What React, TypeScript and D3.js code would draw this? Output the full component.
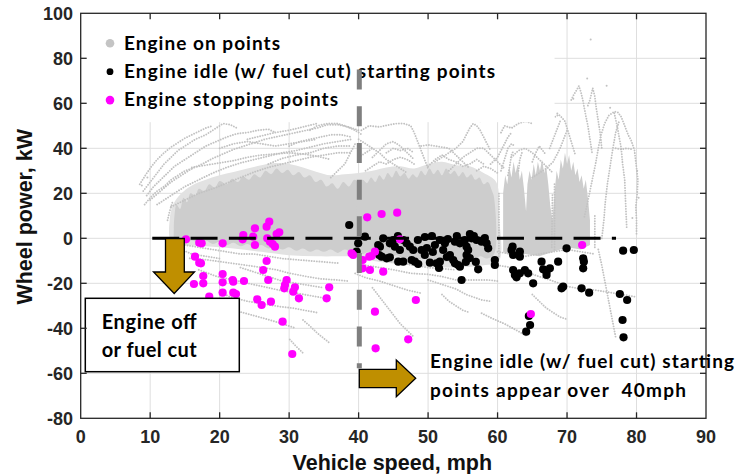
import React, { useEffect } from "react";
import * as d3 from "d3";

const W = 736;
const H = 474;

const xTicks = [0, 10, 20, 30, 40, 50, 60, 70, 80, 90];
const yTicks = [-80, -60, -40, -20, 0, 20, 40, 60, 80, 100];

type Pt = [number, number];

// Medium-density fringe of the "engine on" cloud (speed mph, wheel power kW)
const engineOnFringe: Pt[][] = [
  [
    [13, -1], [12.8, 8], [13.3, 15], [14.5, 20], [16, 23.5], [18, 26], [20, 28], [22, 29.5], [24, 31], [26, 32.5],
    [28, 33.5], [30, 33], [32, 31.5], [34, 29.5], [36, 28], [38, 28.5], [40, 29], [42, 30], [44, 31.5], [46, 32],
    [48, 31], [50, 33], [52, 34], [54, 32.5], [56, 32], [58, 29], [59.8, 25], [60.2, 10], [60.2, -10], [58, -12],
    [54, -13], [50, -12.5], [46, -11.5], [42, -10], [40, -8], [38, -8], [34, -8], [30, -7.5], [26, -6], [22, -4.5],
    [18, -3.5], [15, -3],
  ],
];

// Dense parts of the "engine on" cloud
const engineOnDense: Pt[][] = [
  [
    [13.5, -0.5], [13.4, 4], [13.5, 10], [13.8, 15], [14.3, 13], [14.8, 18], [15.3, 16], [15.8, 20], [16.5, 19],
    [17, 22], [17.8, 21], [18.5, 24], [19.3, 22.5], [20, 25.5], [21, 24], [21.8, 26.5], [22.6, 25], [23.4, 27.5],
    [24.2, 26], [25, 28.5], [25.8, 27], [26.6, 30], [27.4, 28.5], [28.2, 31], [29, 29], [29.8, 30.5], [30.6, 28],
    [31.4, 29.5], [32.2, 27], [33, 28], [33.8, 25], [34.6, 26], [35.4, 23], [36.2, 24.5], [37, 22], [37.8, 25],
    [38.6, 23], [39.4, 26], [40, 24],
    [40, -4.5], [39, -6], [38, -5], [37, -6.5], [36, -5], [35, -6], [34, -5], [33, -6], [32, -4.5], [31, -5.5],
    [30, -4], [29, -5], [28, -3.5], [27, -4.5], [26, -3], [25, -4], [24, -2.5], [23, -3.5], [22, -2], [21, -3],
    [20, -1.5], [19, -2.5], [18, -1], [17, -2], [16, -1], [15, -2], [14, -1],
  ],
  [
    [40, 24], [40.6, 26], [41.2, 24.5], [41.8, 27], [42.4, 25], [43, 28], [43.6, 26], [44.2, 29], [44.8, 27],
    [45.4, 30], [46, 27.5], [46.6, 29], [47.2, 26.5], [47.8, 28.5], [48.4, 27], [49, 30], [49.6, 28], [50.2, 31],
    [50.8, 28.5], [51.4, 30.5], [52, 28], [52.6, 31], [53.2, 28.5], [53.8, 30], [54.4, 27.5], [55, 29.5],
    [55.6, 27], [56.2, 28.5], [56.8, 26], [57.4, 27], [58, 24], [58.6, 25], [59.2, 21], [59.5, 18],
    [59.5, -7], [58.5, -9], [57.5, -8], [56.5, -10], [55.5, -9], [54.5, -11], [53.5, -9.5], [52.5, -10.5],
    [51.5, -9], [50.5, -10], [49.5, -8.5], [48.5, -9.5], [47.5, -8], [46.5, -9], [45.5, -7.5], [44.5, -8.5],
    [43.5, -7], [42.5, -8], [41.5, -6], [40.5, -7], [40, -5],
  ],
];

// Acceleration columns at higher speed
const engineOnColumns: Pt[][] = [
  [
    [60.8, -6], [60.8, 20], [61.1, 28], [61.4, 24], [61.7, 32], [62, 27], [62.3, 34], [62.6, 29], [62.9, 33],
    [63.2, 26], [63.5, 30], [63.8, 22], [64.1, 12], [64.3, 24], [64.6, 30], [64.9, 26], [65.2, 33], [65.5, 28],
    [65.8, 34], [66.1, 30], [66.4, 35], [66.7, 29], [67, 32], [67.3, 24], [67.6, 14], [67.9, 8], [68.2, 20],
    [68.5, 30], [68.8, 26], [69.1, 35], [69.4, 31], [69.7, 38], [70, 33], [70.3, 37], [70.6, 30], [70.9, 34],
    [71.2, 28], [71.5, 31], [71.8, 25], [72.1, 28], [72.4, 22], [72.7, 26], [73, 18], [73.3, 8],
    [73.3, -3], [72, -5], [70, -4], [68, -6], [66, -8], [64, -7], [62, -8],
  ],
];

// Sparser "engine on" samples, stored as runs along each drive trace
const engineOnTraces: Pt[][] = [
  [[9, 21], [10, 25], [11, 29], [12, 33], [13, 36], [14, 39], [15, 41], [16.5, 44], [18, 46], [19.5, 49], [20.5, 51], [21.5, 50.5], [22.5, 49]],
  [[9.5, 19], [10.5, 23], [11.5, 26], [12.5, 29], [13.5, 32], [15, 35], [16.5, 38], [18, 41], [19.5, 43], [21, 45], [22.5, 46.5], [24, 47], [25.5, 48], [27, 48.5], [28, 47]],
  [[10, 17], [11.5, 21], [13, 25], [14.5, 28], [16, 31], [17.5, 33], [19, 35.5], [20.5, 37.5], [22, 39.5], [23.5, 41], [25, 42.5], [26.5, 44], [28, 45], [29.5, 46], [31, 47], [32.5, 48], [34, 49], [35.5, 50.5], [37, 50.5], [38.5, 49.5], [40, 48]],
  [[11, 15], [13, 19], [15, 23], [17, 26], [19, 29], [21, 31.5], [23, 33.5], [25, 35], [27, 36.5], [29, 38], [31, 39], [33, 40.5], [35, 42], [37, 43], [39, 44]],
  [[13, 14], [15, 17], [17, 20], [19, 22], [21, 24.5], [23, 27], [25, 29.5], [27, 31.5], [29, 33], [31, 34.5], [33, 36], [35, 37], [37, 38], [39, 38]],
  [[16, 31.5], [18, 32.5], [20, 33.5], [22, 34.5], [24, 36], [26, 37], [28, 37.5], [30, 38], [32, 37.5], [34, 36.5], [36, 35]],
  [[9.2, 15], [10, 18], [11, 21], [12, 23], [13, 26], [14, 28], [15, 30], [16, 31]],
  [[8.5, 24], [9.3, 28], [10.2, 32], [11, 35], [12, 38], [13, 40.5], [14, 42.5], [15, 44.5], [16, 46], [17, 47.5], [18, 49], [19, 50]],
  [[24, 44], [26, 45.5], [28, 47], [30, 48], [32, 49.5], [34, 51]],
  [[20, 40], [22, 42], [24, 43], [26, 42], [28, 41], [30, 42], [32, 43], [34, 44]],
  [[27, 33], [29, 35.5], [31, 37], [33, 38], [35, 40], [37, 41], [39, 41]],
  [[30, 41], [31.5, 43], [33, 44], [34.5, 45], [36, 46], [37.5, 46], [39, 45]],
  [[33, 48], [34, 50], [35.5, 51], [37, 51], [38, 50], [39.5, 48], [40.5, 46]],
  [[36, 27], [37, 30], [38, 33], [38.5, 36], [39, 39], [39.5, 42]],
  [[40.4, 48], [41.5, 50], [43, 49.5], [44.5, 50.5], [45.5, 51], [46.5, 51], [47.5, 50], [48, 47], [48.5, 43], [49, 39], [49.5, 35], [50, 31]],
  [[40, 44], [41, 42], [42, 40], [43, 38], [44, 35], [45, 33], [46, 31], [47, 29]],
  [[42, 36], [43, 39], [44, 42], [45, 43], [46, 41], [47, 38], [48, 35]],
  [[41, 30], [42, 32], [43, 34], [44, 33], [45, 35], [46, 36], [47, 35], [48, 33]],
  [[40, 36], [41, 38], [42, 40]],
  [[44, 38], [45, 40], [46, 39], [47, 40], [48, 38]],
  [[49, 41], [50, 41.5], [51, 41], [52, 40.5], [53, 40], [54, 37], [55, 34], [56, 31]],
  [[50, 32], [51, 35], [52, 37], [53, 35], [54, 34], [55, 32], [56, 33], [57, 35], [58, 33]],
  [[51, 34], [52, 36], [53, 38], [54, 40], [55, 43], [55.5, 46], [56, 49], [56.5, 51], [57, 50], [57.5, 48], [58, 45], [58.5, 42], [59, 39]],
  [[53, 30], [54, 33], [55, 36], [56, 38], [57, 40], [58, 40], [59, 37], [60, 34], [61, 31]],
  [[57, 30], [58, 32], [59, 31], [60, 29]],
  [[60.5, 47], [61, 50], [62, 49], [63, 51], [64, 52], [65, 51]],
  [[59, 33], [60, 36], [60.5, 39], [61, 42], [61.5, 45], [62, 47]],
  [[60.5, 30], [61, 35], [61.5, 40], [62, 42], [62.5, 41]],
  [[62, 36], [63, 39], [64, 40], [65, 38], [66, 35], [67, 32], [68, 29]],
  [[65, 34], [65.5, 38], [66, 41], [66.5, 39], [67, 37]],
  [[65, 27], [66, 29], [67, 31], [68, 34], [68.5, 37], [69, 40], [69.5, 44], [70, 48]],
  [[67.5, 40], [68, 44], [68.5, 48], [69, 52]],
  [[68.3, 54], [68.8, 55], [69.3, 53.5], [69.7, 52], [70, 49], [70.4, 45], [70.8, 41], [71.2, 37]],
  [[70.6, 61.5], [71, 64], [71.4, 66], [71.7, 67.7], [72, 65], [72.3, 61], [72.6, 56], [73, 50], [73.3, 44], [73.6, 38]],
  [[73, 59], [73.3, 61.5], [73.7, 66.7], [74, 63], [74.2, 58], [74.5, 52], [74.8, 46], [75, 40]],
  [[72.5, 9.6], [72.9, 15], [73.3, 21], [73.7, 27], [74.1, 33], [74.5, 40], [74.9, 46], [75.4, 51], [76, 54.5], [76.8, 56.3], [77.3, 56], [77.8, 54], [78.3, 50], [78.8, 46], [79.2, 43.7], [79.7, 39.3], [79.9, 34], [80.2, 26], [80.1, 20], [79.9, 14], [80, 8], [80, 2]],
  [[76.8, 55.6], [77.2, 50], [77.5, 45], [77.8, 40], [78, 33], [78.3, 26], [78.4, 18], [78.5, 11], [78.6, 4]],
  [[75, 0], [75.3, 8], [75.5, 16], [75.8, 24], [76.2, 32], [76.6, 40], [77, 47], [77.5, 52]],
  [[77, 40], [77.8, 39.5], [78.6, 40], [79.5, 39.5]],
  [[61.5, 28], [61.8, 33], [62, 37], [62.3, 39]],
  [[63, 30], [63.2, 35], [63.5, 38]],
  [[60.2, -8], [60.2, 20]],
  [[68.2, -5], [68.2, 25]],
  [[67.8, -4], [67.9, 20]],
  [[74, -4], [74, 10]],
  [[12.5, 8], [12.8, 12], [13.2, 16]],
  [[15.7, -8.9], [18, -9.5], [21.5, -11], [25, -12.5], [28.2, -14], [30, -15.5], [32.5, -17], [34.5, -18], [36.8, -18.5], [38.5, -19]],
  [[17, -14], [19.6, -17], [22, -18.5], [24, -20], [26.3, -21.5], [28.5, -23], [31.1, -24.4], [34, -26], [36, -27]],
  [[20, -24], [21.5, -26], [24, -28], [26, -29], [28.7, -30.4], [30.5, -31], [32, -31.9], [34, -33]],
  [[22, -31.9], [24.5, -34], [27.2, -36.3], [29, -38], [31, -40]],
  [[32, -36.3], [33, -39], [34, -42], [35, -44.5], [35.9, -46.7]],
  [[30.1, -45], [31, -48], [32, -51]],
  [[15, -3], [17, -4], [19, -5], [21, -6], [23, -7], [25, -7], [27, -8], [29, -9], [31, -9.5], [33, -10], [35, -10.5], [37, -11]],
  [[14.5, -5], [16, -7], [18, -8], [20, -9]],
  [[23, -13], [25, -15], [27, -17], [29, -19], [31, -20], [33, -21], [35, -22]],
  [[39.5, -15.6], [41, -17.5], [43, -19], [45, -21], [47, -23], [49, -24.4]],
  [[41, -12], [43, -13], [45, -14], [47.6, -15.6], [50, -16], [52, -17], [54, -18.5], [56, -18.5], [58.6, -18.5], [60, -19]],
  [[50, -18.5], [52, -20.5], [54, -22.5], [55.5, -25], [57.7, -27.4], [59, -28]],
  [[57.7, -33.3], [59.5, -36], [61, -38], [62.5, -40.5], [64.4, -43.7]],
  [[60, -12], [62, -13], [64, -15], [66, -17], [68, -19], [70.2, -21.5], [72, -22.5], [74, -23], [76, -24], [78, -25], [79.8, -26]],
  [[42, -22], [43, -26], [44, -30], [45, -34], [46, -38], [47, -41], [48, -44]],
  [[52, -25], [53, -28], [54, -30], [55, -32], [56, -33]],
  [[74.5, -5], [75, -12], [75.5, -20], [76, -28], [76.5, -36], [77, -44]],
  [[65, -25], [66, -28], [67, -31], [68, -33], [69, -35], [70, -36]],
  [[44, -10], [46, -11], [48, -12], [50, -13], [52, -13.5], [54, -14]],
  [[60, -6], [62, -7], [64, -8], [66, -7], [68, -6], [70, -5], [72, -6], [74, -7]],
];

const engineOnSingles: Pt[] = [
  [73.4, 88.4], [75.7, 67.8], [72.9, 71], [70.9, 62], [68.6, 55.5], [76.2, 58], [80.1, 30],
  [8.8, 23.5], [9.6, 27], [57.5, 52], [66, 53], [79.4, 9], [80.3, 18],
];

// Engine idle (with fuel cut) starting points
const idleStartPoints: Pt[] = [
  [38.65, 5.91], [39.71, -5.96], [39.94, -2.22], [40.91, 0.71], [42.82, -2.98], [43.07, -3.73],
  [42.96, -7.42], [43.31, -8.18], [44.03, -8.89], [44.5, -8.44], [44.5, -2.22], [45.22, -3.73],
  [44.98, -0.76], [46.42, -0.76], [46.91, -2.22], [47.38, -3.73], [47.86, -5.2], [45.7, -10.4],
  [46.42, -10.4], [47.63, -9.64], [48.1, -10.4], [48.58, -11.42], [49.06, -5.2], [50.26, -10.84],
  [51.22, -11.11], [51.7, -10.4], [50.98, -2.98], [51.7, -0.76], [52.42, -2.22], [52.17, -5.2],
  [53.14, -7.42], [53.61, -9.64], [53.86, -11.11], [54.33, -11.87], [54.58, -12.62], [53.86, -1.51],
  [54.58, -2.22], [55.3, -0.76], [55.54, -3.73], [55.77, -5.2], [56.26, 0], [56.98, -0.76],
  [57.7, -1.51], [58.42, -2.22], [58.65, -4.44], [55.54, -7.42], [54.82, -18.53], [57.21, -13.78],
  [59.61, -9.64], [59.61, -11.87], [62.16, -3.73], [62.01, -5.2], [62.24, -7.42], [63.21, -5.96],
  [63.21, -8.18], [62.24, -14.09], [62.49, -16.31], [62.73, -17.33], [63.21, -15.56], [63.93, -14.09],
  [64.4, -15.56], [65.12, -20.0], [66.33, -10.4], [66.56, -13.78], [67.05, -14.84], [67.53, -13.33],
  [67.05, -16.31], [68.72, -10.4], [69.21, -22.22], [69.44, -21.51], [69.93, -4.44], [72.32, -8.89],
  [72.42, -10.4], [72.32, -13.33], [72.09, -22.22], [73.18, -24.18], [78.07, -5.51], [79.61, -5.2],
  [77.6, -24.76], [78.65, -27.42], [77.99, -36.31], [78.13, -44.0], [64.5, -34.53], [64.68, -38.53],
  [64.12, -41.51], [43.54, 0], [45.66, 1.02], [48.53, -0.76], [49.54, 0.58], [50.55, 1.02],
  [52.85, -0.31], [54.14, 1.02], [56.02, 1.91], [56.59, 1.02], [58.17, 0.13], [49.82, -4.31],
  [50.68, -6.09], [45.94, -5.2], [49.53, -7.42], [52.7, -8.3], [55.44, -10.5], [56.0, -8.8],
  [56.87, -10.5], [51.57, -13.2],
];

// Engine stopping points
const stopPoints: Pt[] = [
  [15.15, -0.44], [17.06, -1.96], [17.41, -2.22], [20.43, -2.22], [23.4, 1.47], [23.31, -0.44],
  [25.08, 4.44], [24.83, 0.71], [25.08, -2.98], [26.76, 5.16], [27.14, 7.38], [28.2, 1.91],
  [28.58, 2.67], [26.85, 0], [27.24, -1.51], [27.63, -2.53], [27.96, -3.73], [16.45, -8.18],
  [17.06, -10.84], [17.31, -11.11], [26.76, -10.09], [26.27, -14.09], [17.64, -16.76], [20.43, -15.87],
  [16.3, -20.31], [17.64, -20.0], [20.43, -19.56], [21.87, -18.53], [21.96, -19.29], [23.5, -18.98],
  [26.99, -18.53], [29.64, -18.53], [29.4, -20.76], [29.3, -22.22], [30.83, -21.78], [30.59, -23.73],
  [31.41, -26.67], [35.77, -21.78], [35.4, -26.67], [18.5, -25.96], [20.43, -24.18], [21.96, -24.18],
  [22.35, -24.76], [25.41, -27.11], [26.04, -29.64], [27.38, -28.18], [29.06, -37.07], [30.45, -51.42],
  [38.99, -6.67], [39.22, -7.42], [40.58, -9.64], [41.53, -8.18], [41.87, -7.87], [42.35, -5.96],
  [40.58, -13.33], [41.63, -14.09], [43.54, -14.84], [41.24, 9.33], [43.31, 10.8], [45.55, 11.38],
  [45.94, -0.44], [48.24, -27.42], [42.35, -32.62], [47.14, -44.89], [42.45, -48.89], [64.79, -33.64],
  [72.17, -2.98],
];

const legendItems = [
  { label: "Engine on points", color: "#c4c4c4", r: 4.3, width: 156 },
  { label: "Engine idle (w/ fuel cut) starting points", color: "#000000", r: 3.4, width: 371 },
  { label: "Engine stopping points", color: "#ff00ff", r: 4.3, width: 214 },
];

const GREY = "#c2c2c2";
const DENSE = "#cdcdcd";
const FRINGE = "#e2e2e2";
const GOLD = "#BF8F00";
const AXIS = "#262626";
const LABEL_FONT = "Lato, 'Open Sans', sans-serif";
const TICK_FONT = "'Liberation Sans', Arial, sans-serif";

export default function App() {
  useEffect(() => {
    document.body.style.margin = "0";
  }, []);

  const x = d3.scaleLinear().domain([0, 90]).range([80.7, 706]);
  const y = d3.scaleLinear().domain([-80, 100]).range([418.3, 13.3]);
  const [x0, x1] = x.range();
  const [y0, y1] = y.range();

  const line = d3
    .line<Pt>()
    .x((d) => x(d[0]))
    .y((d) => y(d[1]));
  const smoothArea = d3
    .line<Pt>()
    .x((d) => x(d[0]))
    .y((d) => y(d[1]))
    .curve(d3.curveCatmullRomClosed.alpha(0.5));
  const sharpArea = d3
    .line<Pt>()
    .x((d) => x(d[0]))
    .y((d) => y(d[1]))
    .curve(d3.curveLinearClosed);

  return (
    <svg
      width={W}
      height={H}
      viewBox={`0 0 ${W} ${H}`}
      style={{ position: "absolute", left: 0, top: 0, background: "#fff" }}
    >
      <rect x={0} y={0} width={W} height={H} fill="#fff" />

      {/* grid */}
      <g stroke="#dedede" strokeWidth={1}>
        {xTicks.slice(1, -1).map((t) => (
          <line key={`gx${t}`} x1={x(t)} x2={x(t)} y1={y1} y2={y0} />
        ))}
        {yTicks.slice(1, -1).map((t) => (
          <line key={`gy${t}`} x1={x0} x2={x1} y1={y(t)} y2={y(t)} />
        ))}
      </g>

      {/* engine on cloud */}
      <g>
        {engineOnFringe.map((poly, i) => (
          <path key={`f${i}`} d={smoothArea(poly) || ""} fill={FRINGE} />
        ))}
        {engineOnDense.map((poly, i) => (
          <path key={`d${i}`} d={smoothArea(poly) || ""} fill={DENSE} />
        ))}
        {engineOnColumns.map((poly, i) => (
          <path key={`c${i}`} d={sharpArea(poly) || ""} fill={DENSE} />
        ))}
        {engineOnTraces.map((tr, i) => (
          <path
            key={`t${i}`}
            d={line(tr) || ""}
            fill="none"
            stroke={GREY}
            strokeWidth={1.9}
            strokeDasharray="0.01 2.6"
            strokeLinecap="round"
          />
        ))}
        {engineOnSingles.map((p, i) => (
          <circle key={`s${i}`} cx={x(p[0])} cy={y(p[1])} r={1} fill={GREY} />
        ))}
      </g>

      {/* idle start and stop points */}
      <g>
        {idleStartPoints.map((p, i) => (
          <circle key={`b${i}`} cx={x(p[0])} cy={y(p[1])} r={4.1} fill="#000" />
        ))}
        {stopPoints.map((p, i) => (
          <circle key={`m${i}`} cx={x(p[0])} cy={y(p[1])} r={4.1} fill="#ff00ff" />
        ))}
      </g>

      {/* legend */}
      <rect x={x(0)} y={y(100)} width={x(68.2) - x(0)} height={y(51.6) - y(100)} fill="#fff" />
      {legendItems.map((it, i) => (
        <g key={it.label}>
          <circle cx={110} cy={43.3 + i * 28.4} r={it.r} fill={it.color} />
          <text
            x={124}
            y={50 + i * 28.2}
            fontFamily={LABEL_FONT}
            fontWeight={700}
            fontSize={19}
            fill="#000"
            textLength={it.width}
            lengthAdjust="spacing"
          >
            {it.label}
          </text>
        </g>
      ))}

      {/* reference lines */}
      <line
        x1={x(40.1)}
        x2={x(40.1)}
        y1={y(75)}
        y2={y(-57.7)}
        stroke="#7f7f7f"
        strokeWidth={5}
        strokeDasharray="20 16.7"
      />
      <line
        x1={x(10.3)}
        x2={x(77.05)}
        y1={y(0)}
        y2={y(0)}
        stroke="#000"
        strokeWidth={3}
        strokeDasharray="27 11.3"
      />

      {/* annotations */}
      <path
        d="M165.5,238.5 L184.3,238.5 L184.3,272 L194.5,272 L174.2,293.5 L153.5,272 L165.5,272 Z"
        fill={GOLD}
        stroke="#000"
        strokeWidth={1.3}
        strokeLinejoin="miter"
      />
      <rect x={85.3} y={298.3} width={154} height={73.4} fill="#fff" stroke="#000" strokeWidth={1.5} />
      <text x={101.7} y={329.3} fontFamily={LABEL_FONT} fontWeight={700} fontSize={20} fill="#000" textLength={95} lengthAdjust="spacing">
        Engine off
      </text>
      <text x={101.7} y={356.7} fontFamily={LABEL_FONT} fontWeight={700} fontSize={20} fill="#000" textLength={95} lengthAdjust="spacing">
        or fuel cut
      </text>

      <path
        d="M359.3,369.3 L396.3,369.3 L396.3,360 L415.7,378.3 L396.3,396.7 L396.3,387.7 L359.3,387.7 Z"
        fill={GOLD}
        stroke="#000"
        strokeWidth={1.3}
      />
      <text x={430} y={368.3} fontFamily={LABEL_FONT} fontWeight={700} fontSize={19} fill="#000" textLength={304} lengthAdjust="spacing">
        Engine idle (w/ fuel cut) starting
      </text>
      <text
        x={430}
        y={396.7}
        fontFamily={LABEL_FONT}
        fontWeight={700}
        fontSize={19}
        fill="#000"
        textLength={256}
        lengthAdjust="spacing"
        style={{ whiteSpace: "pre" }}
      >
        {"points appear over  40mph"}
      </text>

      {/* axes box with inward ticks */}
      <g stroke={AXIS} strokeWidth={1.3} fill="none">
        <rect x={x0} y={y1} width={x1 - x0} height={y0 - y1} />
        {xTicks.slice(1, -1).map((t) => (
          <g key={`tx${t}`}>
            <line x1={x(t)} x2={x(t)} y1={y0} y2={y0 - 6} />
            <line x1={x(t)} x2={x(t)} y1={y1} y2={y1 + 6} />
          </g>
        ))}
        {yTicks.slice(1, -1).map((t) => (
          <g key={`ty${t}`}>
            <line x1={x0} x2={x0 + 6} y1={y(t)} y2={y(t)} />
            <line x1={x1} x2={x1 - 6} y1={y(t)} y2={y(t)} />
          </g>
        ))}
      </g>

      {/* tick labels */}
      <g fontFamily={TICK_FONT} fontWeight={700} fontSize={18} fill={AXIS}>
        {xTicks.map((t) => (
          <text key={`lx${t}`} x={x(t)} y={443.3} textAnchor="middle">
            {t}
          </text>
        ))}
        {yTicks.map((t) => (
          <text key={`ly${t}`} x={73} y={y(t) + 6.6} textAnchor="end">
            {t}
          </text>
        ))}
      </g>

      {/* axis titles */}
      <text
        x={(x0 + x1) / 2 - 1}
        y={470}
        textAnchor="middle"
        fontFamily={TICK_FONT}
        fontWeight={700}
        fontSize={21.5}
        fill="#111"
      >
        Vehicle speed, mph
      </text>
      <text
        transform={`translate(32, ${(y0 + y1) / 2 + 1}) rotate(-90)`}
        textAnchor="middle"
        fontFamily={TICK_FONT}
        fontWeight={700}
        fontSize={21.5}
        fill="#111"
      >
        Wheel power, kW
      </text>
    </svg>
  );
}
